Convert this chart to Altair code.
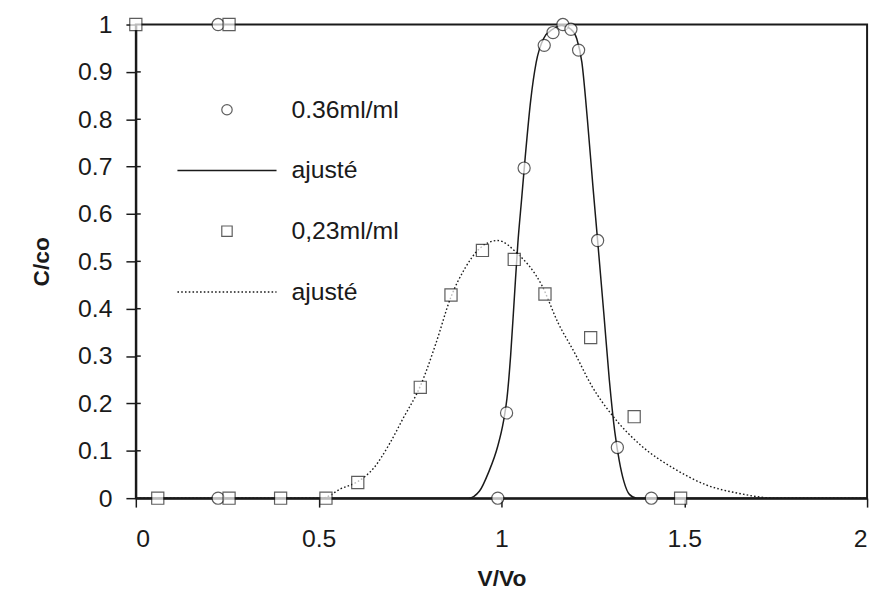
import altair as alt
import pandas as pd

# ---- data ----
circle_x = [0.225, 0.225, 0.99, 1.014, 1.062, 1.117, 1.141, 1.168, 1.19, 1.211, 1.263, 1.317, 1.41]
circle_y = [1.0, 0.0, 0.0, 0.18, 0.697, 0.956, 0.983, 1.0, 0.99, 0.946, 0.544, 0.107, 0.0]

square_x = [0.0, 0.255, 0.06, 0.255, 0.396, 0.52, 0.607, 0.778, 0.862, 0.948, 1.035, 1.119, 1.244, 1.363, 1.49]
square_y = [1.0, 1.0, 0.0, 0.0, 0.0, 0.0, 0.033, 0.234, 0.429, 0.523, 0.504, 0.431, 0.339, 0.172, 0.0]

fit1_x = [0.0, 0.91, 0.94, 0.965, 0.99, 1.005, 1.015, 1.025, 1.035, 1.045, 1.055, 1.065, 1.08, 1.095,
          1.115, 1.14, 1.165, 1.19, 1.206, 1.22, 1.235, 1.25, 1.263, 1.28, 1.295, 1.31, 1.322, 1.335,
          1.35, 1.37, 2.0]
fit1_y = [0.0, 0.0, 0.015, 0.055, 0.11, 0.16, 0.21, 0.3, 0.42, 0.54, 0.63, 0.72, 0.84, 0.92,
          0.97, 0.99, 0.998, 0.99, 0.97, 0.92, 0.8, 0.66, 0.544, 0.39, 0.25, 0.14, 0.08, 0.035,
          0.008, 0.0, 0.0]

fit2_x = [0.0, 0.5, 0.52, 0.558, 0.607, 0.65, 0.694, 0.73, 0.78, 0.82, 0.862, 0.9, 0.94, 0.99, 1.043,
          1.11, 1.155, 1.2, 1.247, 1.304, 1.382, 1.471, 1.56, 1.65, 1.75, 2.0]
fit2_y = [0.0, 0.0, 0.002, 0.019, 0.035, 0.063, 0.115, 0.167, 0.24, 0.325, 0.425, 0.485, 0.527, 0.544,
          0.517, 0.45, 0.37, 0.307, 0.237, 0.174, 0.111, 0.063, 0.028, 0.01, 0.0, 0.0]

legend_labels = ["0.36ml/ml", "ajusté", "0,23ml/ml", "ajusté"]
legend_kinds = ["circle", "solid", "square", "dotted"]

x_ticks = [0, 0.5, 1, 1.5, 2]
y_ticks = [0, 0.1, 0.2, 0.3, 0.4, 0.5, 0.6, 0.7, 0.8, 0.9, 1.0]

# ---- tables ----
pts = pd.DataFrame({
    "x": circle_x + square_x,
    "y": circle_y + square_y,
    "k": ["circle"] * len(circle_x) + ["square"] * len(square_x),
})
f1 = pd.DataFrame({"x": fit1_x, "y": fit1_y})
f2 = pd.DataFrame({"x": fit2_x, "y": fit2_y})
yt = pd.DataFrame({"t": y_ticks[1:-1]})

FONT = "Liberation Sans"
INK = "#1a1a1a"
DOTS = [1.6, 2.2]

xs = alt.Scale(domain=[0, 2], nice=False)
ys = alt.Scale(domain=[0, 1], nice=False)

x_axis = alt.Axis(values=x_ticks, format=".1~f", title="V/Vo", grid=False, tickSize=9,
                  labelPadding=20, titlePadding=16)
y_axis = alt.Axis(values=y_ticks, format=".1~f", title="C/co", grid=False, tickSize=10,
                  labelPadding=14, titlePadding=24)

fit1 = alt.Chart(f1).mark_line(color=INK, strokeWidth=1.5, interpolate="monotone").encode(
    x=alt.X("x:Q", scale=xs, axis=x_axis),
    y=alt.Y("y:Q", scale=ys, axis=y_axis),
)
fit2 = alt.Chart(f2).mark_line(color=INK, strokeWidth=1.4, strokeDash=DOTS,
                               interpolate="monotone").encode(
    x=alt.X("x:Q", scale=xs),
    y=alt.Y("y:Q", scale=ys),
)

# short inner part of the y ticks (they cross the axis in the reference)
inner_ticks = alt.Chart(yt).mark_rule(color=INK, strokeWidth=1.5).encode(
    y=alt.Y("t:Q", scale=ys),
    x=alt.value(0), x2=alt.value(5),
)

points = alt.Chart(pts).mark_point(filled=True, fill="white", stroke=INK, strokeWidth=1.2,
                                   size=150).encode(
    x=alt.X("x:Q", scale=xs),
    y=alt.Y("y:Q", scale=ys),
    shape=alt.Shape("k:N", scale=alt.Scale(domain=["circle", "square"], range=["circle", "square"]),
                    legend=None),
)

# ---- legend drawn inside the plot (layout in pixels of the plot area) ----
LEG_SYM_X = 92      # centre of the symbol column
LEG_LINE_HALF = 50  # half length of legend lines
LEG_TEXT_X = 157
LEG_Y0 = 86
LEG_DY = 61.3

legend_layers = []
for i, (lab, kind) in enumerate(zip(legend_labels, legend_kinds)):
    yy = LEG_Y0 + i * LEG_DY
    row = pd.DataFrame({"label": [lab]})
    legend_layers.append(
        alt.Chart(row).mark_text(align="left", baseline="middle", font=FONT, fontSize=25,
                                 color=INK).encode(
            x=alt.value(LEG_TEXT_X), y=alt.value(yy), text=alt.Text("label:N"))
    )
    if kind in ("circle", "square"):
        legend_layers.append(
            alt.Chart(row).mark_point(shape=kind, filled=True, fill="white", stroke=INK,
                                      strokeWidth=1.2, size=110).encode(
                x=alt.value(LEG_SYM_X), y=alt.value(yy))
        )
    else:
        style = {"strokeDash": DOTS} if kind == "dotted" else {}
        legend_layers.append(
            alt.Chart(row).mark_rule(color=INK, strokeWidth=1.5, **style).encode(
                x=alt.value(LEG_SYM_X - LEG_LINE_HALF), x2=alt.value(LEG_SYM_X + LEG_LINE_HALF),
                y=alt.value(yy))
        )

chart = alt.layer(fit1, fit2, inner_ticks, points, *legend_layers).properties(
    width=738, height=478,
    autosize=alt.AutoSizeParams(type="none"),
    padding={"left": 129, "top": 14, "right": 9, "bottom": 90},
).configure_view(stroke=INK, strokeWidth=2).configure_axis(
    labelFont=FONT, labelFontSize=25, labelColor=INK, titleFont=FONT, titleFontSize=23,
    titleFontWeight="bold", titleColor=INK, domainColor=INK, domainWidth=2, tickColor=INK,
    tickWidth=1.5,
)

chart.save("out.html", embed_options={"renderer": "svg", "actions": False})
